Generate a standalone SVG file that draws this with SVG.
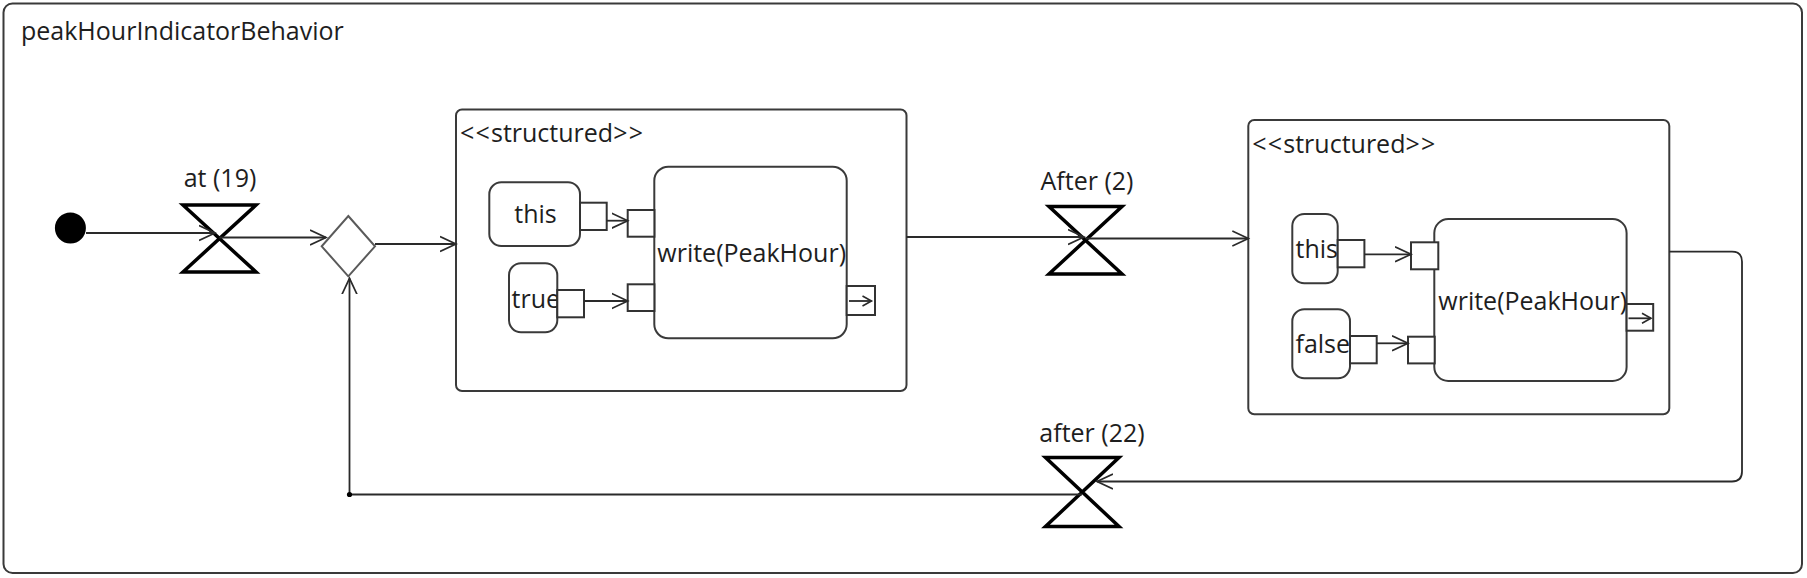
<svg xmlns="http://www.w3.org/2000/svg" width="1807" height="578" viewBox="0 0 1807 578">
<style>
text{font-family:"Open Sans","Noto Sans","Liberation Sans",sans-serif;font-size:25px;fill:#1e1e1e}
.frame{fill:#fff;stroke:#3a3a3a;stroke-width:2}
.box{fill:#fff;stroke:#3a3a3a;stroke-width:2}
.pin{fill:#fff;stroke:#333;stroke-width:2}
.hg{fill:none;stroke:#000;stroke-width:3.5;stroke-linejoin:miter}
.dia{fill:#fff;stroke:#5a5a5a;stroke-width:2}
.con{fill:none;stroke:#2a2a2a;stroke-width:1.8}
.mid{text-anchor:middle}
.br{letter-spacing:1.2px}
</style>
<defs>
<marker id="arr" markerUnits="userSpaceOnUse" markerWidth="20" markerHeight="18" refX="16" refY="8" orient="auto" viewBox="0 0 20 16">
<path d="M0,0.5 L16,8 L0,15.5" fill="none" stroke="#2a2a2a" stroke-width="1.7"/>
</marker>
<marker id="arrs" markerUnits="userSpaceOnUse" markerWidth="12" markerHeight="12" refX="10" refY="6" orient="auto" viewBox="0 0 12 12">
<path d="M1,1 L10,6 L1,11" fill="none" stroke="#2a2a2a" stroke-width="1.6"/>
</marker>
</defs>

<g id="frame">
<rect class="frame" x="3.5" y="3.5" width="1798.5" height="569.5" rx="9"/>
<text x="21" y="39.5">peakHourIndicatorBehavior</text>
</g>

<g id="initial">
<circle cx="70.4" cy="228" r="15.5" fill="#000"/>
</g>

<g id="at19">
<path class="hg" d="M183,205 L256,205 L183,272 L256,272 Z"/>
<text class="mid" x="220" y="186.5">at (19)</text>
</g>

<g id="merge">
<path class="dia" d="M348.3,216 L375,246.3 L348.3,276.3 L321.7,246.3 Z"/>
</g>

<g id="structured1">
<rect class="box" x="456" y="109.5" width="450.5" height="281.5" rx="6"/>
<text x="460" y="141.7"><tspan class="br">&lt;&lt;</tspan>structured<tspan class="br">&gt;&gt;</tspan></text>
<g id="this1">
<rect class="box" x="489.3" y="182.3" width="90.7" height="63.7" rx="12"/>
<text class="mid" x="535.5" y="223">this</text>
</g>
<rect class="pin" x="580" y="202.7" width="26.7" height="27.3"/>
<g id="true1">
<rect class="box" x="509" y="263.3" width="48.3" height="69" rx="12"/>
<text x="511.5" y="308.3">true</text>
</g>
<rect class="pin" x="557.3" y="290" width="26.7" height="27.3"/>
<g id="write1">
<rect class="box" x="654.3" y="166.7" width="192.4" height="171.6" rx="14"/>
<text x="657.3" y="262.3">write(PeakHour)</text>
</g>
<rect class="pin" x="627.7" y="210" width="26.7" height="26.7"/>
<rect class="pin" x="627.7" y="284.3" width="26.7" height="26.7"/>
<rect class="pin" x="846.7" y="286" width="28.3" height="29"/>
</g>

<g id="after2">
<path class="hg" d="M1049,206.5 L1122,206.5 L1049,274 L1122,274 Z"/>
<text class="mid" x="1087" y="190">After (2)</text>
</g>

<g id="structured2">
<rect class="box" x="1248.3" y="120" width="421" height="294.3" rx="6"/>
<text x="1252.3" y="152.7"><tspan class="br">&lt;&lt;</tspan>structured<tspan class="br">&gt;&gt;</tspan></text>
<g id="this2">
<rect class="box" x="1292.3" y="214" width="45.4" height="69.3" rx="12"/>
<text x="1295.5" y="258.3">this</text>
</g>
<rect class="pin" x="1337.7" y="240" width="26.7" height="27.3"/>
<g id="false2">
<rect class="box" x="1292.3" y="309.3" width="57.7" height="69" rx="12"/>
<text x="1295.5" y="353.3">false</text>
</g>
<rect class="pin" x="1350" y="336" width="26.7" height="27.3"/>
<g id="write2">
<rect class="box" x="1434.3" y="219" width="192.3" height="162" rx="14"/>
<text x="1438.3" y="310">write(PeakHour)</text>
</g>
<rect class="pin" x="1411" y="242.3" width="27.3" height="27"/>
<rect class="pin" x="1408" y="336.7" width="26.7" height="26.7"/>
<rect class="pin" x="1626.6" y="304" width="26.6" height="26.7"/>
</g>

<g id="after22">
<path class="hg" d="M1045.5,457.5 L1119,457.5 L1045.5,526.5 L1119,526.5 Z"/>
<text class="mid" x="1092" y="442">after (22)</text>
</g>

<g id="connectors">
<line class="con" x1="86" y1="233" x2="215" y2="233" marker-end="url(#arr)"/>
<line class="con" x1="219.5" y1="237.5" x2="326" y2="237.5" marker-end="url(#arr)"/>
<line class="con" x1="375" y1="244" x2="456" y2="244" marker-end="url(#arr)"/>
<line class="con" x1="906.5" y1="237" x2="1084" y2="237" marker-end="url(#arr)"/>
<line class="con" x1="1085.5" y1="238.5" x2="1248.3" y2="238.5" marker-end="url(#arr)"/>
<path class="con" d="M1669.2,251.7 H1732 Q1742,251.7 1742,261.7 V471.5 Q1742,481.5 1732,481.5 H1097" marker-end="url(#arr)"/>
<path class="con" d="M1082,494.5 H349.5 V278.3" marker-end="url(#arr)"/>
<circle cx="349.5" cy="494.5" r="2.6" fill="#000"/>
<line class="con" x1="606.7" y1="220.7" x2="627.7" y2="220.7" marker-end="url(#arr)"/>
<line class="con" x1="584" y1="301" x2="627.7" y2="301" marker-end="url(#arr)"/>
<line class="con" x1="849" y1="301" x2="871.5" y2="301" marker-end="url(#arrs)"/>
<line class="con" x1="1364.4" y1="254.3" x2="1411" y2="254.3" marker-end="url(#arr)"/>
<line class="con" x1="1376.7" y1="343.3" x2="1408" y2="343.3" marker-end="url(#arr)"/>
<line class="con" x1="1628.5" y1="318.3" x2="1651" y2="318.3" marker-end="url(#arrs)"/>
</g>
</svg>
